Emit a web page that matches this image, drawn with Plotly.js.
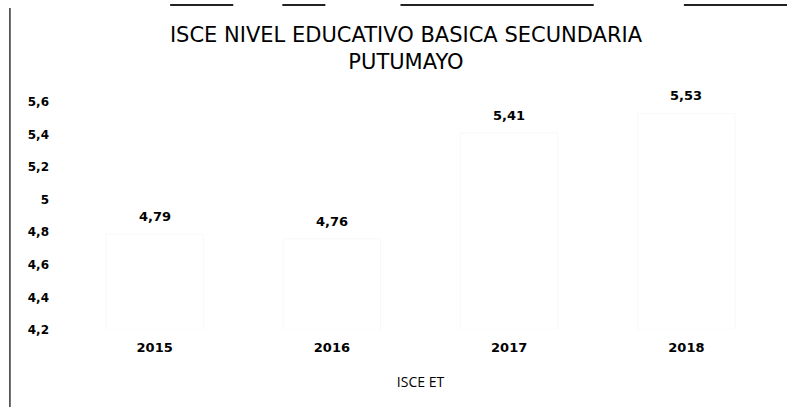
<!DOCTYPE html>
<html>
<head>
<meta charset="utf-8">
<script src="https://cdn.plot.ly/plotly-3.0.1.min.js"></script>
<style>
html,body{margin:0;padding:0;background:#fff;}
#chart{width:787px;height:407px;}
</style>
</head>
<body>
<div id="chart"></div>
<script>
const categories = ['2015', '2016', '2017', '2018'];
const values = [4.79, 4.76, 5.41, 5.53];
const yTickVals = [4.2, 4.4, 4.6, 4.8, 5, 5.2, 5.4, 5.6];
const yTickText = ['4,2', '4,4', '4,6', '4,8', '5', '5,2', '5,4', '5,6'];
const titleLine1 = 'ISCE NIVEL EDUCATIVO BASICA SECUNDARIA';
const titleLine2 = 'PUTUMAYO';

const labels = values.map(v => v.toFixed(2).replace('.', ','));
const axisMin = 4.2;

const trace = {
  type: 'bar',
  x: categories,
  y: values.map(v => v - axisMin),
  base: axisMin,
  marker: {color: '#ffffff', line: {color: '#f0f0f0', width: 0.5}},
  width: 0.55,
  hoverinfo: 'skip'
};

const labelAnnotations = categories.map((c, i) => ({
  x: i, y: values[i], xref: 'x', yref: 'y',
  text: labels[i], showarrow: false,
  xanchor: 'center', yanchor: 'bottom', yshift: 8,
  font: {family: 'DejaVu Sans', size: 13, color: '#000', weight: 'bold'}
}));

const layout = {
  width: 787, height: 407,
  margin: {l: 66, r: 12, t: 102, b: 77},
  paper_bgcolor: '#fff', plot_bgcolor: '#fff',
  showlegend: false,
  title: {
    text: titleLine1 + '<br>' + titleLine2,
    font: {family: 'DejaVu Sans', size: 21, color: '#000'},
    xref: 'container', x: 406/787, xanchor: 'center',
    yref: 'container', y: 1 - 42/407, yanchor: 'top'
  },
  xaxis: {
    type: 'category',
    categoryarray: categories, categoryorder: 'array',
    showline: false, showgrid: false, zeroline: false, ticks: '',
    tickfont: {family: 'DejaVu Sans', size: 13, color: '#000', weight: 'bold'},
    ticklabelstandoff: 8,
    title: {text: 'ISCE ET', font: {family: 'Open Sans', size: 14, color: '#000'}, standoff: 23}
  },
  yaxis: {
    range: [4.2, 5.6],
    tickvals: yTickVals, ticktext: yTickText,
    showline: false, showgrid: false, zeroline: false, ticks: '',
    tickfont: {family: 'DejaVu Sans', size: 12, color: '#000', weight: 'bold'},
    ticklabelstandoff: 16
  },
  annotations: labelAnnotations,
  shapes: [
    {type: 'line', xref: 'paper', yref: 'paper', x0: -56/708, x1: -56/708, y0: 322/228, y1: -77/228, line: {color: '#333', width: 1.5}},
    {type: 'line', xref: 'paper', yref: 'paper', x0: (170-66)/708, x1: (233-66)/708, y0: 325/228, y1: 325/228, line: {color: '#222', width: 2}},
    {type: 'line', xref: 'paper', yref: 'paper', x0: (282-66)/708, x1: (325-66)/708, y0: 325/228, y1: 325/228, line: {color: '#222', width: 2}},
    {type: 'line', xref: 'paper', yref: 'paper', x0: (400-66)/708, x1: (593-66)/708, y0: 325/228, y1: 325/228, line: {color: '#222', width: 2}},
    {type: 'line', xref: 'paper', yref: 'paper', x0: (683-66)/708, x1: (787-66)/708, y0: 325/228, y1: 325/228, line: {color: '#222', width: 2}}
  ]
};

Plotly.newPlot('chart', [trace], layout, {staticPlot: true, displayModeBar: false});
</script>
</body>
</html>
